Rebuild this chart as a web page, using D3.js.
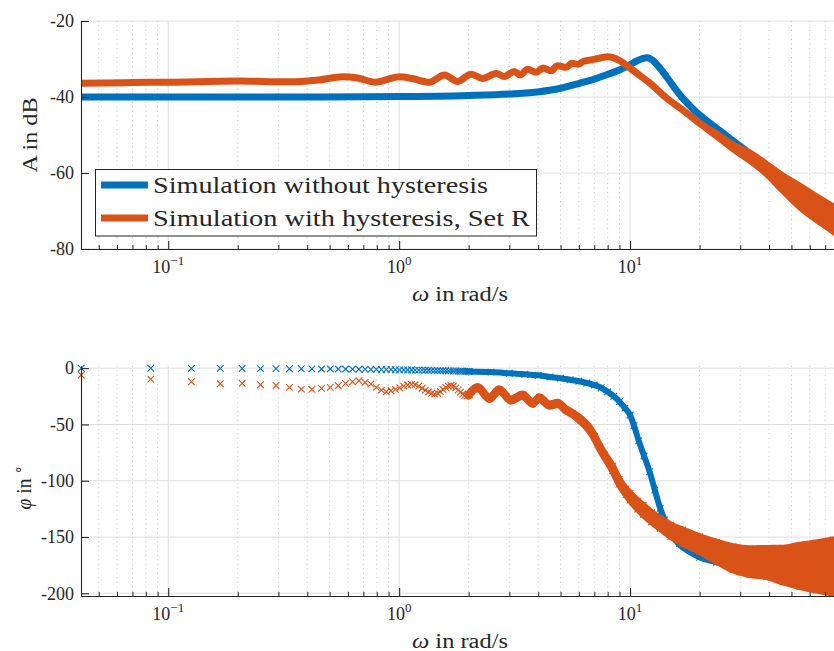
<!DOCTYPE html>
<html>
<head>
<meta charset="utf-8">
<script src="https://cdn.jsdelivr.net/npm/d3@7"></script>
<style>
  html, body { margin: 0; padding: 0; background: #fff; }
  svg { display: block; }
  text { font-family: "Liberation Serif", "Times New Roman", serif; fill: #262626; }
</style>
</head>
<body>
<svg id="chart" width="834" height="651"></svg>
<script>
// ---------- Amplitude response (dB) ----------
const ampFreqNoHyst = [0.0419, 0.1, 0.3, 1.0, 2.0, 3.0, 4.05, 5.0, 6.04, 7.0,
  7.88, 9.0, 10.0, 10.8, 11.3, 11.9, 12.5, 13.3, 14.36, 15.5,
  16.9, 18.5, 20.0, 23.7, 28, 33, 39, 46, 54, 64, 76, 80];
const ampNoHyst = [-40.0, -40.0, -40.0, -39.9, -39.6, -39.2, -38.6, -37.7, -36.4, -35.3,
  -34.2, -32.9, -31.5, -30.4, -29.9, -29.7, -30.3, -32.0, -34.6, -37.4,
  -40.3, -42.8, -44.7, -48.2, -51.6, -54.8, -57.9, -60.9, -63.8, -66.8, -69.9, -70.8];

const ampFreqHyst = [0.0419, 0.07, 0.1, 0.2, 0.33, 0.45, 0.57, 0.66, 0.79, 0.9,
  1.0, 1.15, 1.35, 1.57, 1.79, 2.05, 2.30, 2.64, 2.85, 3.15,
  3.35, 3.6, 3.92, 4.2, 4.54, 4.85, 5.3, 5.6, 5.95, 6.3,
  6.68, 7.35, 8.0, 9.0, 10.0, 11.0, 12.2, 14.4, 16.9, 20.0,
  23.7, 27.9, 33, 38.9, 45.9, 54.4, 64.3, 75.9, 80];
const ampHyst = [-36.4, -36.2, -36.1, -35.8, -36.0, -35.5, -34.7, -35.0, -36.1, -35.3,
  -34.7, -35.2, -36.1, -34.2, -35.9, -34.0, -35.1, -33.8, -34.6, -33.3,
  -34.2, -32.7, -33.5, -32.4, -33.1, -31.8, -32.2, -31.1, -31.4, -30.6,
  -30.3, -29.8, -29.4, -30.4, -32.4, -34.3, -36.4, -40.3, -43.4, -46.9,
  -50.0, -53.1, -55.7, -58.9, -62.7, -66.2, -69.3, -72.1, -73.0];
// half-width (dB) of the oscillation band at high frequency
const ampHystSpread = [0, 0, 0, 0, 0, 0, 0, 0, 0, 0,
  0, 0, 0, 0, 0, 0, 0, 0, 0, 0,
  0, 0, 0, 0, 0, 0, 0, 0, 0, 0,
  0, 0, 0, 0, 0, 0, 0, 0, 0, 0,
  0.25, 0.5, 0.95, 1.2, 1.85, 2.7, 3.0, 3.2, 3.3];

// ---------- Phase response (deg), individual low-frequency samples ----------
const phaseFreq = [0.042, 0.084, 0.126, 0.168, 0.209, 0.251, 0.293, 0.335, 0.377, 0.419,
  0.461, 0.503, 0.545, 0.586, 0.628, 0.670, 0.712, 0.754, 0.796, 0.838,
  0.880, 0.922, 0.963, 1.005, 1.047, 1.089, 1.131, 1.173, 1.215, 1.257,
  1.298, 1.340, 1.382, 1.424, 1.466, 1.508, 1.550, 1.592, 1.634, 1.676,
  1.717, 1.759, 1.801, 1.843, 1.885, 1.927, 1.969, 2.011];
const phaseNoHyst = [-0.1, -0.1, -0.2, -0.2, -0.3, -0.4, -0.4, -0.5, -0.5, -0.6,
  -0.7, -0.7, -0.8, -0.8, -0.9, -1.0, -1.0, -1.1, -1.1, -1.2,
  -1.3, -1.3, -1.4, -1.5, -1.5, -1.6, -1.6, -1.7, -1.8, -1.8,
  -1.9, -1.9, -2.0, -2.1, -2.1, -2.2, -2.2, -2.3, -2.4, -2.4,
  -2.5, -2.5, -2.6, -2.7, -2.7, -2.8, -2.8, -2.9];
const phaseHyst = [-6.1, -9.8, -12.1, -13.8, -13.5, -14.7, -15.4, -17.1, -18.6, -18.9,
  -18.0, -17.1, -15.6, -13.5, -12.1, -11.2, -12.7, -14.1, -17.1, -19.5,
  -21.0, -20.1, -18.9, -17.4, -16.0, -15.0, -14.4, -14.8, -16.0, -17.8,
  -19.6, -21.2, -22.4, -23.0, -22.3, -20.8, -19.0, -17.2, -15.9, -15.4,
  -16.0, -17.5, -19.4, -21.3, -23.0, -24.2, -24.6, -23.8];

// ---------- Phase response (deg), dense region drawn as a band ----------
const phaseBandFreqNoHyst = [2.0, 2.5, 3.0, 3.5, 4.0, 4.5, 5.0, 5.5, 6.0, 6.5,
  7.0, 7.5, 8.0, 8.5, 9.0, 9.5, 10.0, 10.4, 10.9, 11.5,
  12.15, 12.8, 13.5, 14.1, 15.1, 16.4, 18.1, 20.0, 23.7, 27.9,
  35, 45, 60, 80];
const phaseBandNoHyst = [-2.9, -3.5, -4.5, -5.4, -6.4, -7.8, -8.9, -10.3, -11.6, -13.2,
  -15.0, -17.4, -21.0, -25.0, -29.8, -35.5, -41.7, -51.0, -64.5, -78.0,
  -92.0, -108.3, -124.5, -134.9, -146.7, -155.6, -161.5, -166.0, -170.4, -174.0,
  -175.5, -176.6, -177.4, -178.0];
const phaseBandSpreadNoHyst = [0, 0, 0, 0, 0, 0, 0, 0, 0, 0,
  0, 0, 0, 0, 0, 0, 0, 0, 0, 0,
  0, 0, 0, 0.5, 1, 1.5, 1.8, 2, 2, 2,
  2, 2, 2, 2];

const phaseBandFreqHyst = [2.0, 2.19, 2.46, 2.71, 3.05, 3.42, 3.79, 4.05, 4.48, 4.86,
  5.28, 5.64, 6.12, 6.55, 7.0, 7.35, 7.73, 8.4, 8.97, 9.6,
  10.0, 10.8, 11.4, 12.4, 13.5, 15.0, 16.9, 20.0, 23.7, 27.9,
  33, 39, 46, 54.4, 64, 76, 80];
const phaseBandHyst = [-23.8, -17.4, -26.8, -19.4, -28.3, -23.9, -31.3, -26.3, -32.8, -31.3,
  -37.2, -40.5, -46.1, -52.0, -60.9, -69.5, -77.2, -89.0, -100.9, -109.8,
  -114.2, -121.6, -126.0, -132.5, -137.9, -144.5, -149.7, -156.3, -163.0, -168.9,
  -171.9, -172.6, -174.9, -175.6, -176.2, -176.3, -176.3];
const phaseBandSpreadHyst = [1, 1, 1, 1, 1, 1, 1, 1, 1, 1,
  1, 1, 1.5, 1.5, 1.5, 1.5, 1.5, 2, 2, 2.5,
  3, 3.5, 4, 4, 4.4, 5, 5.9, 6.6, 8.5, 10.3,
  11.5, 12.5, 15, 18.4, 21, 23.6, 24.5];

// ---------- Axis ticks and labels ----------
const xMajorTicks = [0.1, 1, 10];
const xMajorExp = ["\u22121", "0", "1"];
const ampTicks = [-80, -60, -40, -20];
const phaseTicks = [-200, -150, -100, -50, 0];
const legendLabels = ["Simulation without hysteresis", "Simulation with hysteresis, Set R"];

const BLUE = "#0072BD", ORANGE = "#D95319", AXIS = "#262626";

const svg = d3.select("#chart");
const x = d3.scaleLog().domain([0.0419, 80]).range([81, 838.6]);
const yA = d3.scaleLinear().domain([-80, -20]).range([249, 21]);
const yP = d3.scaleLinear().domain([-202.4, 2]).range([596, 365.9]);

const xMinorTicks = [];
for (let e = -2; e <= 1; e++) for (let m = 2; m <= 9; m++) {
  const v = m * Math.pow(10, e);
  if (v > x.domain()[0] && v < x.domain()[1]) xMinorTicks.push(v);
}

function panel(y, yTicks, id) {
  const [yb, yt] = y.range();
  const [xl, xr] = x.range();
  const g = svg.append("g");
  svg.append("clipPath").attr("id", id).append("rect")
    .attr("x", xl).attr("y", yt).attr("width", xr - xl).attr("height", yb - yt);
  // minor grid (dotted)
  g.selectAll(".mg").data(xMinorTicks).enter().append("line")
    .attr("x1", d => x(d)).attr("x2", d => x(d)).attr("y1", yt).attr("y2", yb)
    .attr("stroke", "#c4c4c4").attr("stroke-width", 1).attr("stroke-dasharray", "1,3.5");
  // major grid
  g.selectAll(".gx").data(xMajorTicks).enter().append("line")
    .attr("x1", d => x(d)).attr("x2", d => x(d)).attr("y1", yt).attr("y2", yb)
    .attr("stroke", "#dedede").attr("stroke-width", 1);
  g.selectAll(".gy").data(yTicks).enter().append("line")
    .attr("x1", xl).attr("x2", xr).attr("y1", d => y(d)).attr("y2", d => y(d))
    .attr("stroke", "#dedede").attr("stroke-width", 1);
  return g;
}

function axes(y, yTicks) {
  const [yb, yt] = y.range();
  const ax = svg.append("g").attr("transform", `translate(0,${yb})`)
    .call(d3.axisBottom(x).tickValues(xMajorTicks).tickSize(-8).tickSizeOuter(0).tickFormat(""));
  svg.append("g").attr("transform", `translate(0,${yb})`)
    .call(d3.axisBottom(x).tickValues(xMinorTicks).tickSize(-4).tickSizeOuter(0).tickFormat(""))
    .select(".domain").remove();
  const ay = svg.append("g").attr("transform", `translate(${x.range()[0]},0)`)
    .call(d3.axisLeft(y).tickValues(yTicks).tickSize(-8).tickSizeOuter(0).tickPadding(7)
      .tickFormat(d => String(d)));
  [ax, ay].forEach(a => {
    a.selectAll("path, line").attr("stroke", AXIS).attr("stroke-width", 1.1);
  });
  svg.selectAll(".tick line").attr("stroke", AXIS);
  ay.selectAll("text").attr("font-size", 18).attr("font-family", "Liberation Serif").attr("fill", AXIS);
  // decade labels with superscript exponents
  const lab = svg.append("g").selectAll("text").data(xMajorTicks).enter().append("text")
    .attr("x", d => x(d)).attr("y", yb + 24).attr("text-anchor", "middle").attr("font-size", 18);
  lab.append("tspan").text("10");
  lab.append("tspan").attr("dy", -8).attr("font-size", 13).text((d, i) => xMajorExp[i]);
  // x axis title
  const t = svg.append("text").attr("x", 460).attr("y", yb + 52).attr("text-anchor", "middle")
    .attr("font-size", 20).attr("textLength", 96).attr("lengthAdjust", "spacingAndGlyphs");
  t.append("tspan").attr("font-style", "italic").text("\u03C9");
  t.append("tspan").text(" in rad/s");
}

const xMark = "M-3.3,-3.3L3.3,3.3M-3.3,3.3L3.3,-3.3";

// ================= Amplitude panel =================
panel(yA, ampTicks, "clipA");
const dA = svg.append("g").attr("clip-path", "url(#clipA)");
dA.append("path")
  .attr("d", d3.line().x((d, i) => x(ampFreqNoHyst[i])).y(d => yA(d)).curve(d3.curveMonotoneX)(ampNoHyst))
  .attr("fill", "none").attr("stroke", BLUE).attr("stroke-width", 7).attr("stroke-linejoin", "round");
dA.append("path")
  .attr("d", d3.area().x((d, i) => x(ampFreqHyst[i]))
    .y0((d, i) => yA(d - ampHystSpread[i])).y1((d, i) => yA(d + ampHystSpread[i]))
    .curve(d3.curveMonotoneX)(ampHyst))
  .attr("fill", ORANGE).attr("stroke", ORANGE).attr("stroke-width", 7).attr("stroke-linejoin", "round");
axes(yA, ampTicks);
svg.append("text").attr("transform", "translate(36.5,135) rotate(-90)").attr("text-anchor", "middle")
  .attr("font-size", 20).attr("textLength", 75).attr("lengthAdjust", "spacingAndGlyphs").text("A in dB");

// legend
const lg = svg.append("g");
lg.append("rect").attr("x", 95.5).attr("y", 169.5).attr("width", 441).attr("height", 66.5)
  .attr("fill", "#fff").attr("stroke", AXIS).attr("stroke-width", 1);
const legendColors = [BLUE, ORANGE];
const legendWidths = [335, 377];
legendLabels.forEach((lbl, i) => {
  const cy = 185 + i * 33;
  lg.append("line").attr("x1", 101).attr("x2", 148).attr("y1", cy).attr("y2", cy)
    .attr("stroke", legendColors[i]).attr("stroke-width", 7);
  lg.append("text").attr("x", 153).attr("y", cy + 8).attr("font-size", 24)
    .attr("textLength", legendWidths[i]).attr("lengthAdjust", "spacingAndGlyphs").text(lbl);
});

// ================= Phase panel =================
panel(yP, phaseTicks, "clipP");
const inY = v => v >= yP.domain()[0] && v <= yP.domain()[1];

// each series: dense band (clipped) underneath its own cross markers
function phaseSeries(freqLow, valLow, freqBand, valBand, spread, color, width) {
  const g = svg.append("g");
  g.append("g").attr("clip-path", "url(#clipP)").append("path")
    .attr("d", d3.area().x((d, i) => x(freqBand[i]))
      .y0((d, i) => yP(d - spread[i])).y1((d, i) => yP(d + spread[i]))
      .curve(d3.curveMonotoneX)(valBand))
    .attr("fill", color).attr("stroke", color).attr("stroke-width", width)
    .attr("stroke-linejoin", "round");
  const pts = [];
  valLow.forEach((v, i) => pts.push([freqLow[i], v]));
  valBand.forEach((v, i) => {
    pts.push([freqBand[i], v]);
    if (spread[i] >= 2) { pts.push([freqBand[i], v + spread[i]]); pts.push([freqBand[i], v - spread[i]]); }
  });
  g.append("g").selectAll("path").data(pts.filter(p => inY(p[1]))).enter().append("path")
    .attr("transform", p => `translate(${x(p[0])},${yP(p[1])})`)
    .attr("d", xMark).attr("fill", "none").attr("stroke", color).attr("stroke-width", 1.1);
}
phaseSeries(phaseFreq, phaseNoHyst, phaseBandFreqNoHyst, phaseBandNoHyst, phaseBandSpreadNoHyst, BLUE, 6);
phaseSeries(phaseFreq, phaseHyst, phaseBandFreqHyst, phaseBandHyst, phaseBandSpreadHyst, ORANGE, 7);
axes(yP, phaseTicks);
const py = svg.append("text").attr("transform", "translate(31,487.5) rotate(-90)").attr("text-anchor", "middle")
  .attr("font-size", 22).attr("textLength", 44).attr("lengthAdjust", "spacingAndGlyphs");
py.append("tspan").attr("font-style", "italic").text("\u03C6");
py.append("tspan").text(" in ");
py.append("tspan").attr("dy", -8).attr("font-size", 15).text("\u2218");
</script>
</body>
</html>
